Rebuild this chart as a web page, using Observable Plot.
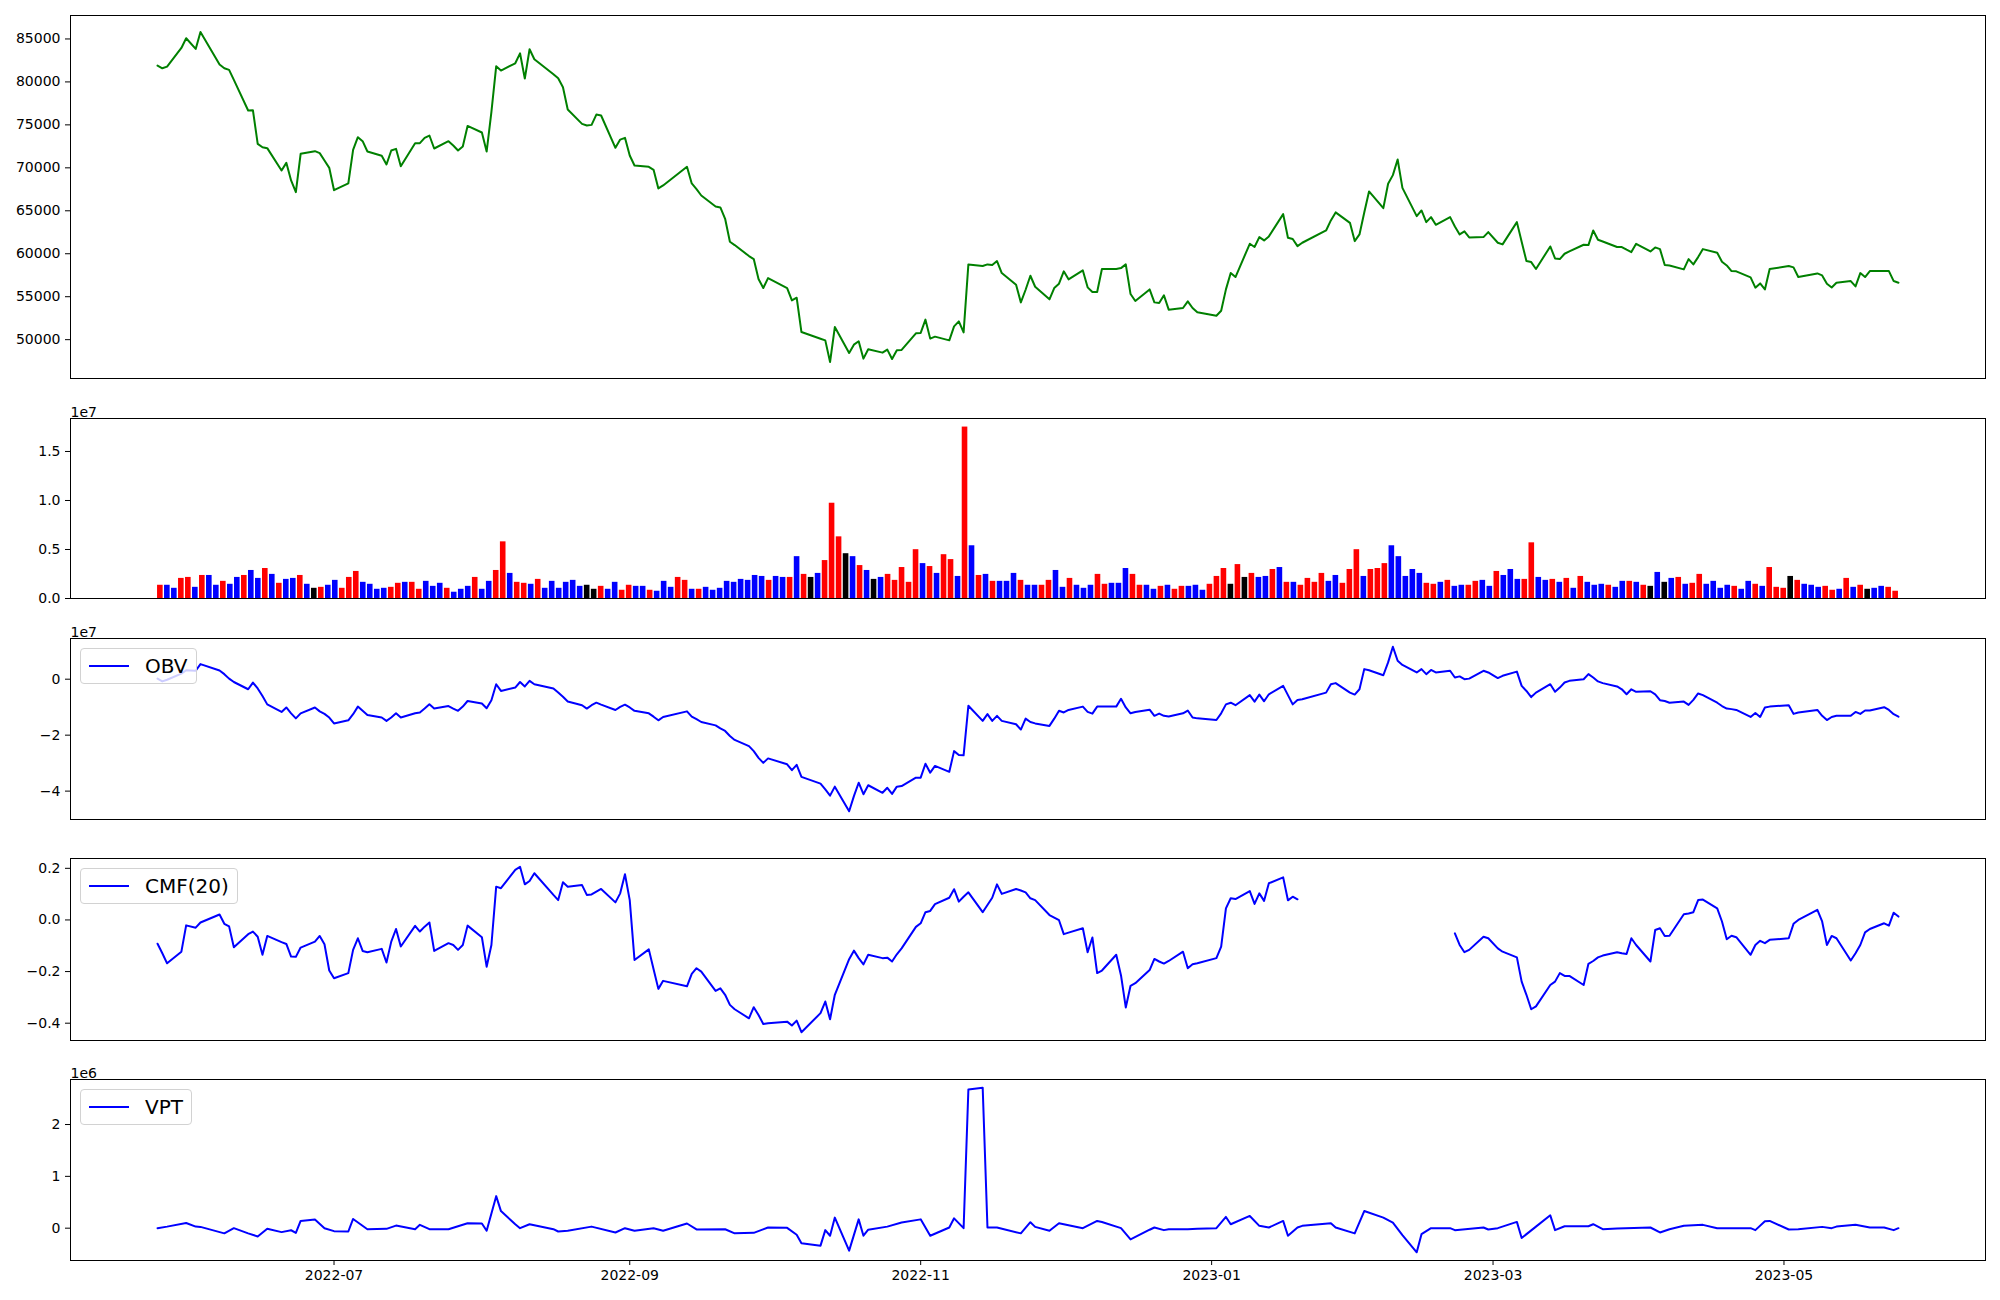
<!DOCTYPE html>
<html><head><meta charset="utf-8">
<script src="https://cdn.jsdelivr.net/npm/d3@7"></script>
<script src="https://cdn.jsdelivr.net/npm/@observablehq/plot@0.6"></script>
<style>
body{margin:0;background:#fff;}
#fig{position:relative;width:2000px;height:1300px;background:#fff;font-family:"DejaVu Sans",sans-serif;overflow:hidden;}
.legend{position:absolute;left:80px;height:36px;box-sizing:border-box;border:1px solid #d2d2d2;border-radius:4px;background:rgba(255,255,255,0.8);display:flex;align-items:center;padding:0 8px;font-size:20px;font-family:"DejaVu Sans",sans-serif;color:#000;}
.legend .sw{width:40px;height:2px;background:#0000ff;margin-right:16px;}
</style></head><body><div id="fig"></div>
<script>
// ---- trading calendar ----
const startDate = "2022-05-25";
const endDate = "2023-05-25";
const holidays = ["2022-06-01","2022-06-06","2022-08-15","2022-09-09","2022-09-12","2022-10-03","2022-10-10","2022-12-30","2023-01-23","2023-01-24","2023-03-01","2023-05-01","2023-05-05"];
const monthTicks = ["2022-07-01","2022-09-01","2022-11-01","2023-01-01","2023-03-01","2023-05-01"];

// ---- close price ----
const close = [
81900,81590,81780,83950,85080,83840,85810,82020,81590,81400,
80230,76670,76700,72790,72400,72290,69690,70580,68530,67170,
71630,71940,71710,70850,70000,67400,68180,72090,73570,73100,
71900,71400,70390,72020,72210,70190,72870,72870,73490,73760,
72250,73100,72600,72020,72480,74880,74110,71900,76500,81820,
81320,82170,83330,80390,83800,82640,80900,80430,79380,76780,
75120,74920,75000,76200,76090,72330,73290,73490,71430,70270,
70120,69770,67600,67950,70120,68180,67520,66780,65500,65390,
64070,61400,61010,59730,59380,57050,56010,57170,56010,54570,
54880,50890,50110,49920,47400,51470,48450,49420,49810,47790,
48880,48490,48840,47750,48760,48800,50740,50780,52330,50120,
50350,49920,51550,52130,50850,58760,58570,58760,58680,59150,
57750,56400,54340,55810,57440,56160,54690,56010,56510,57950,
57020,58060,56090,55540,55540,58220,58220,58330,58760,55310,
54500,55850,54340,54270,55160,53490,53680,54460,53680,53180,
52790,53370,55850,57750,57290,61160,60780,61940,61550,62020,
64610,61860,61710,60890,61280,62710,63880,64810,63600,61470,
62250,64810,67250,65310,68140,69150,70970,67670,64380,65040,
63680,64260,63370,64260,63180,62250,62600,61900,61940,62520,
61280,61090,63680,61400,59150,59030,58220,60850,59460,59380,
60000,60270,61050,61010,62710,61630,61430,60780,60780,60470,
60190,61160,60270,60740,60540,58680,58640,58180,59380,58760,
59610,60540,60120,59070,58640,57980,57950,57250,56050,56550,
55850,58220,58570,58410,57290,57710,57480,56510,56080,56630,
56820,56200,57750,57290,57980,57980,57980,56820,56630];

// ---- volume (millions of shares) ----
const volumeM = [
1.35,1.35,1.04,2.05,2.15,1.14,2.35,2.35,1.35,1.75,
1.45,2.15,2.35,2.86,2.05,3.06,2.46,1.55,1.95,2.05,
2.35,1.45,1.04,1.14,1.35,1.85,1.04,2.15,2.76,1.65,
1.45,0.94,1.04,1.14,1.55,1.65,1.65,0.94,1.75,1.24,
1.55,1.04,0.64,0.94,1.24,2.15,0.94,1.75,2.86,5.78,
2.56,1.65,1.55,1.45,1.95,1.04,1.75,1.04,1.65,1.85,
1.24,1.35,0.94,1.24,0.94,1.65,0.84,1.35,1.24,1.24,
0.84,0.74,1.75,1.14,2.15,1.85,0.94,0.94,1.14,0.84,
1.04,1.75,1.65,1.95,1.85,2.35,2.25,1.85,2.25,2.15,
2.15,4.27,2.46,2.15,2.56,3.87,9.72,6.29,4.57,4.27,
3.36,2.86,1.95,2.15,2.46,1.85,3.16,1.65,4.98,3.56,
3.26,2.56,4.47,3.97,2.25,17.49,5.38,2.35,2.46,1.75,
1.75,1.75,2.56,1.85,1.35,1.35,1.35,1.85,2.86,1.14,
2.05,1.35,1.04,1.35,2.46,1.45,1.55,1.55,3.06,2.46,
1.35,1.35,0.94,1.24,1.35,0.94,1.24,1.24,1.35,0.84,
1.45,2.25,3.06,1.45,3.46,2.15,2.56,2.15,2.25,2.96,
3.16,1.65,1.65,1.35,2.05,1.65,2.56,1.75,2.35,1.55,
2.96,4.98,2.25,2.96,3.06,3.56,5.38,4.27,2.25,2.96,
2.56,1.55,1.45,1.65,1.85,1.24,1.35,1.35,1.75,1.85,
1.24,2.76,2.35,2.96,1.95,1.95,5.68,2.15,1.85,1.95,
1.65,2.05,1.04,2.25,1.65,1.35,1.45,1.35,1.14,1.75,
1.75,1.65,1.35,1.24,2.66,1.65,2.05,2.15,1.45,1.55,
2.46,1.45,1.75,1.04,1.35,1.24,0.94,1.75,1.45,1.24,
3.16,1.14,1.04,2.25,1.85,1.45,1.35,1.14,1.24,0.84,
0.94,2.05,1.14,1.35,0.94,1.04,1.24,1.14,0.74];
// bar colour code per day: r = up, b = down, k = unchanged
const volumeDir = (
"rbbrrbrbbr" + "bbrbbrbrbb" + "rbkrbbrrrb" + "bbbrrbrrbb" + "brbbbrbbrr" +
"brrbrbbbbb" + "bkkrbbrrbb" + "rbbbrrbrbb" + "bbbbbbbrbb" + "rbrkbrrrkb" +
"rbkbrrrrrb" + "rbrrbrbrbr" + "bbbrbbrrbb" + "rbbbrrbbbr" + "rbbrbrrbbb" +
"rrrkrkrbbr" + "brbrrrrbbr" + "rrbrrrbbbb" + "brrbrbbrrb" + "brbbbrrbbr" +
"brbrbbbrbb" + "rbrkbkbrbr" + "rbbbbrbbrb" + "rrrkrbbbrr" + "brbrkbbrr").split("");

// ---- OBV (units of 1e7) ----
const obv = [
0.02,-0.08,-0.02,0.20,0.32,0.30,0.54,0.31,0.18,0.02,
-0.10,-0.36,-0.12,-0.33,-0.60,-0.90,-1.17,-1.01,-1.22,-1.40,
-1.22,-1.01,-1.15,-1.24,-1.37,-1.58,-1.47,-1.25,-0.98,-1.13,
-1.28,-1.37,-1.49,-1.37,-1.22,-1.37,-1.22,-1.19,-1.05,-0.90,
-1.05,-0.96,-1.05,-1.13,-0.98,-0.78,-0.87,-1.04,-0.75,-0.18,
-0.42,-0.30,-0.10,-0.26,-0.06,-0.18,-0.33,-0.48,-0.63,-0.80,
-0.93,-1.05,-0.93,-0.84,-0.91,-1.10,-0.99,-0.91,-1.01,-1.13,
-1.22,-1.34,-1.47,-1.35,-1.15,-1.34,-1.43,-1.53,-1.65,-1.76,
-1.85,-2.03,-2.17,-2.39,-2.57,-2.81,-2.99,-2.83,-3.04,-3.25,
-3.06,-3.49,-3.73,-3.94,-4.16,-3.84,-4.72,-4.18,-3.70,-4.11,
-3.79,-4.06,-3.88,-4.10,-3.84,-3.82,-3.52,-3.52,-3.02,-3.34,
-3.10,-3.31,-2.57,-2.71,-2.72,-0.95,-1.49,-1.25,-1.49,-1.31,
-1.49,-1.61,-1.80,-1.41,-1.53,-1.58,-1.67,-1.41,-1.13,-1.19,
-1.10,-0.98,-1.17,-1.23,-0.98,-0.98,-0.98,-0.70,-1.01,-1.22,
-1.17,-1.09,-1.31,-1.23,-1.31,-1.33,-1.22,-1.12,-1.37,-1.40,
-1.46,-1.22,-0.90,-0.84,-0.93,-0.57,-0.80,-0.55,-0.79,-0.54,
-0.24,-0.57,-0.90,-0.74,-0.72,-0.48,-0.18,-0.14,-0.48,-0.55,
-0.36,0.36,0.32,0.14,0.60,1.16,0.66,0.51,0.24,0.36,
0.18,0.33,0.24,0.30,0.06,0.10,0.00,0.02,0.30,0.24,
0.04,0.12,0.27,-0.24,-0.42,-0.64,-0.48,-0.18,-0.45,-0.30,
-0.12,-0.06,0.00,0.18,0.06,-0.08,-0.14,-0.26,-0.36,-0.54,
-0.36,-0.45,-0.43,-0.54,-0.75,-0.78,-0.84,-0.80,-0.92,-0.74,
-0.51,-0.57,-0.84,-0.96,-1.05,-1.07,-1.10,-1.35,-1.21,-1.35,
-1.01,-0.98,-0.93,-1.24,-1.19,-1.10,-1.31,-1.46,-1.35,-1.31,
-1.31,-1.17,-1.24,-1.12,-1.12,-1.00,-1.10,-1.25,-1.34];

// ---- CMF(20) ----
const cmf = [
-0.092,-0.129,-0.168,-0.123,-0.021,-0.030,-0.010,0.021,-0.015,-0.025,
-0.106,-0.055,-0.045,-0.065,-0.135,-0.062,-0.086,-0.093,-0.142,-0.143,
-0.107,-0.084,-0.062,-0.094,-0.196,-0.226,-0.206,-0.116,-0.071,-0.120,
-0.125,-0.112,-0.165,-0.084,-0.035,-0.103,-0.023,-0.045,-0.026,-0.010,
-0.120,-0.090,-0.097,-0.116,-0.097,-0.022,-0.067,-0.181,-0.097,0.129,
0.123,0.194,0.206,0.138,0.151,0.181,0.097,0.077,0.146,0.129,
0.135,0.097,0.099,0.110,0.120,0.068,0.103,0.177,0.077,-0.155,
-0.114,-0.191,-0.267,-0.236,-0.257,-0.209,-0.187,-0.200,-0.275,-0.265,
-0.290,-0.329,-0.346,-0.381,-0.338,-0.368,-0.403,-0.400,-0.394,-0.409,
-0.390,-0.435,-0.361,-0.316,-0.385,-0.290,-0.152,-0.119,-0.148,-0.172,
-0.135,-0.148,-0.146,-0.161,-0.133,-0.110,-0.027,-0.013,0.030,0.035,
0.061,0.086,0.119,0.071,0.090,0.107,0.030,0.058,0.086,0.138,
0.101,0.120,0.114,0.107,0.084,0.077,0.019,0.009,-0.001,-0.055,
-0.049,-0.032,-0.125,-0.068,-0.206,-0.196,-0.135,-0.215,-0.339,-0.255,
-0.245,-0.194,-0.151,-0.161,-0.169,-0.159,-0.123,-0.187,-0.172,-0.168,
-0.148,-0.103,0.045,0.084,0.081,0.112,0.062,0.103,0.074,0.142,
0.165,0.076,0.090,0.080,null,null,null,null,null,null,
null,null,null,null,null,null,null,null,null,null,
null,null,null,null,-0.052,-0.097,-0.125,-0.116,-0.065,-0.071,
-0.110,-0.123,-0.145,-0.239,-0.290,-0.346,-0.335,-0.252,-0.239,-0.206,
-0.217,-0.217,-0.252,-0.170,-0.159,-0.145,-0.138,-0.125,-0.129,-0.132,
-0.071,-0.097,-0.161,-0.039,-0.032,-0.062,-0.061,0.022,0.025,0.030,
0.077,0.079,0.045,-0.006,-0.075,-0.061,-0.067,-0.135,-0.097,-0.081,
-0.090,-0.077,-0.071,-0.015,0.000,0.039,-0.006,-0.097,-0.062,-0.071,
-0.157,-0.129,-0.097,-0.048,-0.035,-0.013,-0.022,0.028,0.013];

// ---- VPT (units of 1e6), read at its turning points ----
const vptDates = ["2022-05-25","2022-05-27","2022-05-31","2022-06-02","2022-06-03","2022-06-08","2022-06-10","2022-06-13","2022-06-15","2022-06-17",
"2022-06-20","2022-06-22","2022-06-23","2022-06-24","2022-06-27","2022-06-29","2022-07-01","2022-07-04","2022-07-05","2022-07-08",
"2022-07-12","2022-07-14","2022-07-18","2022-07-19","2022-07-21","2022-07-25","2022-07-29","2022-08-01","2022-08-02","2022-08-04",
"2022-08-05","2022-08-08","2022-08-09","2022-08-11","2022-08-16","2022-08-17","2022-08-19","2022-08-24","2022-08-29","2022-08-31",
"2022-09-02","2022-09-06","2022-09-08","2022-09-13","2022-09-15","2022-09-21","2022-09-23","2022-09-27","2022-09-30","2022-10-04",
"2022-10-06","2022-10-07","2022-10-11","2022-10-12","2022-10-13","2022-10-14","2022-10-17","2022-10-19","2022-10-20","2022-10-21",
"2022-10-25","2022-10-28","2022-11-01","2022-11-03","2022-11-07","2022-11-08","2022-11-10","2022-11-11","2022-11-14","2022-11-15",
"2022-11-17","2022-11-22","2022-11-24","2022-11-25","2022-11-28","2022-11-30","2022-12-02","2022-12-05","2022-12-08","2022-12-09",
"2022-12-13","2022-12-15","2022-12-19","2022-12-20","2022-12-22","2022-12-23","2022-12-27","2022-12-29","2023-01-02","2023-01-04",
"2023-01-05","2023-01-09","2023-01-11","2023-01-13","2023-01-16","2023-01-17","2023-01-19","2023-01-20","2023-01-26","2023-01-27",
"2023-01-31","2023-02-02","2023-02-06","2023-02-08","2023-02-10","2023-02-13","2023-02-14","2023-02-16","2023-02-20","2023-02-21",
"2023-02-27","2023-02-28","2023-03-02","2023-03-06","2023-03-07","2023-03-10","2023-03-13","2023-03-14","2023-03-16","2023-03-21",
"2023-03-22","2023-03-24","2023-03-27","2023-04-03","2023-04-05","2023-04-07","2023-04-10","2023-04-14","2023-04-17","2023-04-24",
"2023-04-25","2023-04-27","2023-04-28","2023-05-02","2023-05-04","2023-05-09","2023-05-11","2023-05-12","2023-05-16","2023-05-19",
"2023-05-22","2023-05-24","2023-05-25"];
const vpt = [0.00,0.03,0.10,0.03,0.025,-0.10,0.00,-0.10,-0.16,-0.01,
-0.076,-0.04,-0.09,0.14,0.166,0.00,-0.057,-0.064,0.178,-0.02,
-0.013,0.05,-0.02,0.064,-0.02,-0.02,0.096,0.09,-0.05,0.618,
0.33,0.076,0.00,0.076,-0.02,-0.064,-0.05,0.03,-0.083,0.00,
-0.05,0.00,-0.05,0.09,-0.025,-0.02,-0.10,-0.09,0.013,0.006,
-0.127,-0.29,-0.337,-0.038,-0.146,0.204,-0.433,0.17,-0.146,-0.03,
0.03,0.108,0.17,-0.146,0.013,0.19,0.00,2.675,2.71,0.013,
0.013,-0.10,0.115,0.025,-0.05,0.096,0.057,0.00,0.14,0.12,
0.00,-0.216,-0.03,0.013,-0.038,-0.02,-0.02,-0.013,0.00,0.217,
0.076,0.236,0.045,0.013,0.14,-0.146,0.013,0.045,0.096,0.013,
-0.10,0.331,0.204,0.108,-0.134,-0.465,-0.115,0.00,0.00,-0.038,
0.013,-0.025,0.00,0.121,-0.19,0.03,0.248,-0.038,0.038,0.038,
0.076,-0.02,-0.006,0.013,-0.083,-0.02,0.045,0.064,0.00,0.00,
-0.038,0.134,0.14,-0.025,-0.02,0.025,0.00,0.03,0.064,0.013,
0.013,-0.038,0.00];

// ---------------- build ----------------
const fmtDay = d3.utcFormat("%Y-%m-%d");
const days = d3.utcDays(new Date(startDate), d3.utcDay.offset(new Date(endDate), 1))
  .filter(d => d.getUTCDay() % 6 !== 0 && !holidays.includes(fmtDay(d)));
const n = Math.min(days.length, close.length);
const daily = d3.range(n).map(i => ({date: days[i], close: close[i], obv: obv[i], cmf: cmf[i]}));
const dirColor = {r: "#ff0000", b: "#0000ff", k: "#000000"};
const volRows = volumeM.map((v, i) => ({i, v, fill: dirColor[volumeDir[i]] || "#0000ff"}));
const vptRows = vptDates.map((s, i) => ({date: new Date(s), v: vpt[i]}));

const pad = ([a, b], f = 0.05) => [a - (b - a) * f, b + (b - a) * f];
const [t0, t1] = pad(d3.extent(days.slice(0, n), d => +d));
const xDomain = [new Date(t0), new Date(t1)];
const volX = pad([-0.4, volRows.length - 1 + 0.4]);
const minus = s => s.replace("-", "\u2212");

const fig = document.getElementById("fig");
const W = 2000, ML = 70, MR = 15;
const baseStyle = {fontFamily: '"DejaVu Sans", sans-serif', fontSize: "14px", background: "transparent", color: "#000", overflow: "visible"};
function place(svg, top) {
  svg.style.position = "absolute"; svg.style.left = "0px"; svg.style.top = top + "px";
  fig.appendChild(svg);
}
function legend(label, top) {
  const d = document.createElement("div");
  d.className = "legend"; d.style.top = top + "px";
  d.innerHTML = '<div class="sw"></div><span>' + label + '</span>';
  fig.appendChild(d);
}
const offsetText = (t) => Plot.text([t], {text: d => d, frameAnchor: "top-left", dy: -11, textAnchor: "start", fontSize: 14, fill: "#000"});
const yAxis = (domain, ticks, fmt) => ({domain, ticks, tickFormat: fmt, tickSize: 5, tickPadding: 5, label: null});

// Panel 1: price
place(Plot.plot({
  width: W, height: 388, marginLeft: ML, marginRight: MR, marginTop: 15, marginBottom: 10,
  style: baseStyle,
  x: {type: "utc", domain: xDomain, axis: null},
  y: yAxis(pad(d3.extent(daily, d => d.close)), d3.range(50000, 85001, 5000), d => String(d)),
  marks: [
    Plot.line(daily, {x: "date", y: "close", stroke: "#008000", strokeWidth: 2}),
    Plot.frame({stroke: "#000", strokeWidth: 1})
  ]
}), 0);

// Panel 2: volume bars
place(Plot.plot({
  width: W, height: 210, marginLeft: ML, marginRight: MR, marginTop: 25, marginBottom: 5,
  style: baseStyle,
  color: {type: "identity"},
  x: {type: "linear", domain: volX, axis: null},
  y: yAxis([0, d3.max(volumeM) * 1.05], [0, 5, 10, 15], d => (d / 10).toFixed(1)),
  marks: [
    Plot.rect(volRows, {x1: d => d.i - 0.4, x2: d => d.i + 0.4, y1: 0, y2: "v", fill: "fill", inset: 0}),
    Plot.frame({stroke: "#000", strokeWidth: 1}),
    offsetText("1e7")
  ]
}), 393);

// Panel 3: OBV
place(Plot.plot({
  width: W, height: 211, marginLeft: ML, marginRight: MR, marginTop: 25, marginBottom: 5,
  style: baseStyle,
  x: {type: "utc", domain: xDomain, axis: null},
  y: yAxis(pad(d3.extent(daily, d => d.obv)), [-4, -2, 0], d => minus(String(d))),
  marks: [
    Plot.line(daily, {x: "date", y: "obv", stroke: "#0000ff", strokeWidth: 2}),
    Plot.frame({stroke: "#000", strokeWidth: 1}),
    offsetText("1e7")
  ]
}), 613);
legend("OBV", 648);

// Panel 4: CMF(20)
place(Plot.plot({
  width: W, height: 212, marginLeft: ML, marginRight: MR, marginTop: 25, marginBottom: 5,
  style: baseStyle,
  x: {type: "utc", domain: xDomain, axis: null},
  y: yAxis(pad(d3.extent(daily.filter(d => d.cmf != null), d => d.cmf)), [-0.4, -0.2, 0, 0.2], d => minus(d.toFixed(1))),
  marks: [
    Plot.line(daily, {x: "date", y: "cmf", stroke: "#0000ff", strokeWidth: 2}),
    Plot.frame({stroke: "#000", strokeWidth: 1})
  ]
}), 833);
legend("CMF(20)", 868);

// Panel 5: VPT with date axis
place(Plot.plot({
  width: W, height: 246, marginLeft: ML, marginRight: MR, marginTop: 25, marginBottom: 40,
  style: baseStyle,
  x: {type: "utc", domain: xDomain, ticks: monthTicks.map(s => new Date(s)), tickFormat: d3.utcFormat("%Y-%m"), tickSize: 5, tickPadding: 5, label: null},
  y: yAxis(pad(d3.extent(vptRows, d => d.v)), [0, 1, 2], d => String(d)),
  marks: [
    Plot.line(vptRows, {x: "date", y: "v", stroke: "#0000ff", strokeWidth: 2}),
    Plot.frame({stroke: "#000", strokeWidth: 1}),
    offsetText("1e6")
  ]
}), 1054);
legend("VPT", 1089);
</script></body></html>
